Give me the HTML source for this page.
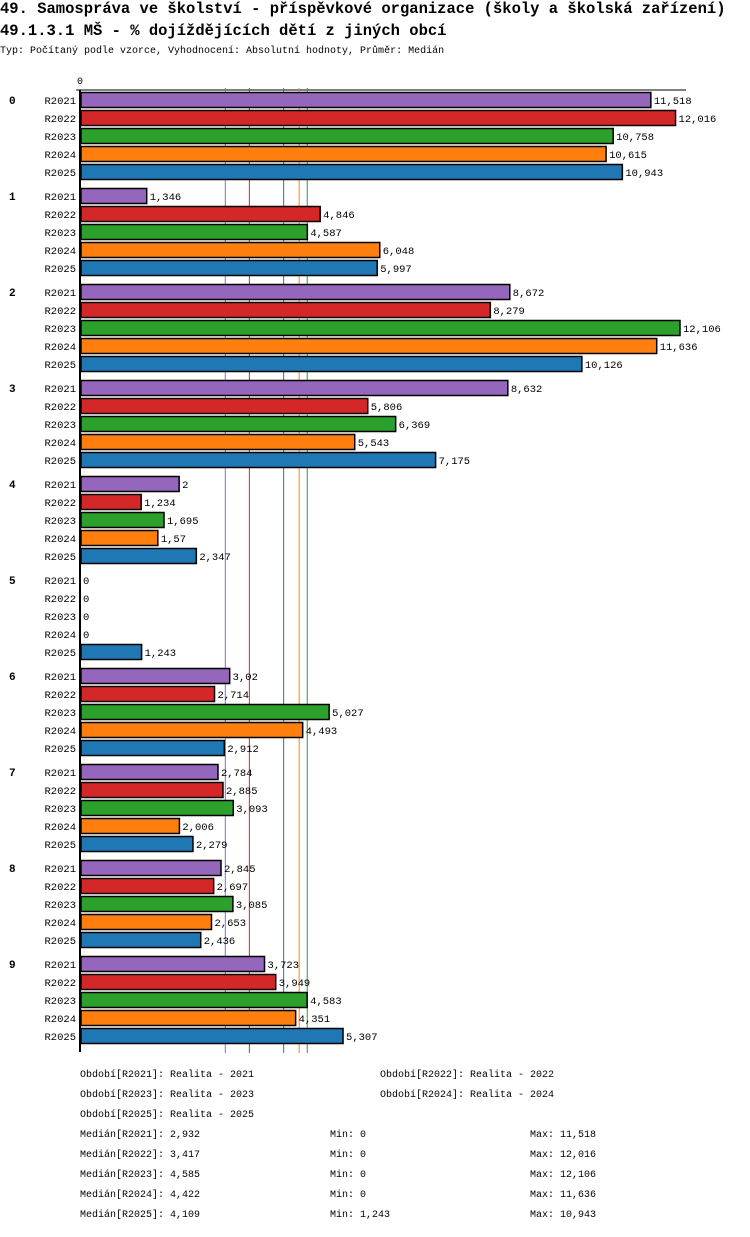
<!DOCTYPE html>
<html><head><meta charset="utf-8"><style>
body{margin:0;background:#fff;width:750px;height:1232px;overflow:hidden;font-family:"Liberation Mono",monospace}
</style></head><body>
<svg id="chart" width="750" height="1232" xmlns="http://www.w3.org/2000/svg" font-family="Liberation Mono, monospace">
<text x="0" y="13" font-size="15.5" font-weight="bold">49. Samospráva ve školství - příspěvkové organizace (školy a školská zařízení)</text>
<text x="0" y="35" font-size="15.5" font-weight="bold">49.1.3.1 MŠ - % dojíždějících dětí z jiných obcí</text>
<text x="0" y="53" font-size="10">Typ: Počítaný podle vzorce, Vyhodnocení: Absolutní hodnoty, Průměr: Medián</text>
<g id="plot"></g>
<g id="legend"></g>
</svg>
<script>
const groups=["0","1","2","3","4","5","6","7","8","9"];
const series=["R2021","R2022","R2023","R2024","R2025"];
const colors=["#9467bd","#d62728","#2ca02c","#ff7f0e","#1f77b4"];
const r2021=[11518,1346,8672,8632,2000,0,3020,2784,2845,3723];
const r2022=[12016,4846,8279,5806,1234,0,2714,2885,2697,3949];
const r2023=[10758,4587,12106,6369,1695,0,5027,3093,3085,4583];
const r2024=[10615,6048,11636,5543,1570,0,4493,2006,2653,4351];
const r2025=[10943,5997,10126,7175,2347,1243,2912,2279,2436,5307];
const labels2021=["11,518","1,346","8,672","8,632","2","0","3,02","2,784","2,845","3,723"];
const labels2022=["12,016","4,846","8,279","5,806","1,234","0","2,714","2,885","2,697","3,949"];
const labels2023=["10,758","4,587","12,106","6,369","1,695","0","5,027","3,093","3,085","4,583"];
const labels2024=["10,615","6,048","11,636","5,543","1,57","0","4,493","2,006","2,653","4,351"];
const labels2025=["10,943","5,997","10,126","7,175","2,347","1,243","2,912","2,279","2,436","5,307"];
const medians=[2932,3417,4585,4422,4109];
const medianLabels=["2,932","3,417","4,585","4,422","4,109"];
const mins=["0","0","0","0","1,243"];
const maxs=["11,518","12,016","12,106","11,636","10,943"];
const periods=["Realita - 2021","Realita - 2022","Realita - 2023","Realita - 2024","Realita - 2025"];

const NS="http://www.w3.org/2000/svg";
const vals=[r2021,r2022,r2023,r2024,r2025];
const labs=[labels2021,labels2022,labels2023,labels2024,labels2025];
const xs=v=>80+v*(600/12106);
const rowY=(g,s)=>100+g*96+s*18;
function mk(tag,attrs,parent){const e=document.createElementNS(NS,tag);for(const k in attrs)e.setAttribute(k,attrs[k]);parent.appendChild(e);return e;}
const plot=document.getElementById('plot');
const t0=mk('text',{x:77,y:84,'font-size':10},plot);t0.textContent='0';


const topLine=mk('line',{x1:76,y1:90,x2:686,y2:90,stroke:'#000','stroke-width':1},plot);


medians.forEach((m,i)=>{
 const l=mk('line',{x1:xs(m),y1:88,x2:xs(m),y2:1053,stroke:colors[i],'stroke-width':1},plot);
 
 
});
groups.forEach((g,gi)=>{
 const gl=mk('text',{x:9,y:rowY(gi,0)+4,'font-size':11,'font-weight':'bold'},plot);gl.textContent=g;
 
 
 series.forEach((s,si)=>{
  const y=rowY(gi,si);
  const sl=mk('text',{x:76,y:y+4,'font-size':10.5,'text-anchor':'end'},plot);sl.textContent=s;
  
  
  const v=vals[si][gi];
  if(v>0){
   const b=mk('rect',{x:81,y:y-7.5,width:xs(v)-81,height:15,fill:colors[si],stroke:'#000','stroke-width':1.5},plot);
   
   
  }
  const vl=mk('text',{x:xs(v)+3,y:y+4,'font-size':10.5},plot);vl.textContent=labs[si][gi];
  
  
 });
});
const ax=mk('line',{x1:80,y1:90,x2:80,y2:1052,stroke:'#000','stroke-width':2},plot);


const lg=document.getElementById('legend');
const pos=[[80,1077],[380,1077],[80,1097],[380,1097],[80,1117]];
series.forEach((s,i)=>{
 const t=mk('text',{x:pos[i][0],y:pos[i][1],'font-size':10},lg);t.textContent='Období['+s+']: '+periods[i];
 
 
 const y=1137+i*20;
 const a=mk('text',{x:80,y:y,'font-size':10},lg);a.textContent='Medián['+s+']: '+medianLabels[i];
 
 
 const b=mk('text',{x:330,y:y,'font-size':10},lg);b.textContent='Min: '+mins[i];
 
 
 const c=mk('text',{x:530,y:y,'font-size':10},lg);c.textContent='Max: '+maxs[i];
 
 
});
</script>
</body></html>
